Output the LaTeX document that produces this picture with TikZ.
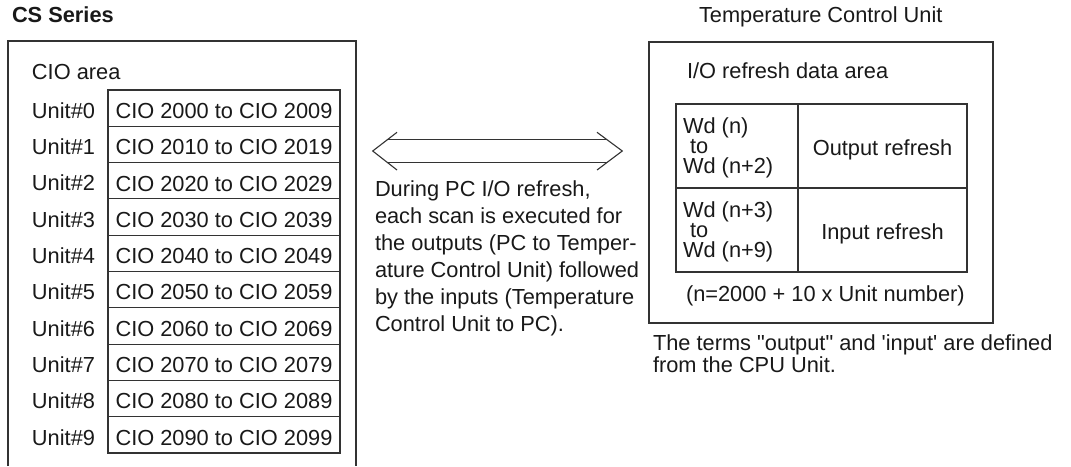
\documentclass[tikz,border=0pt]{standalone}
\usepackage{fontspec}
\setmainfont{Liberation Sans}
\begin{document}
\begin{tikzpicture}[x=0.5pt,y=-0.5pt,line width=0.55pt,
  every node/.style={inner sep=0pt,outer sep=0pt,font=\fontsize{10.9}{13}\selectfont,text=black!90},
  lbl/.style={anchor=base west},
  frame/.style={draw=black!80},
  cell/.style={draw=black!80,text height=10.3pt,text depth=0pt,minimum width=116pt,minimum height=18.15pt},
  iocell/.style={draw=black!80,text height=9.1pt,text depth=0pt,minimum height=42pt}]
\useasboundingbox (0,0) rectangle (1071,466);
% ---------------- left: CS Series ----------------
\node[lbl,font=\fontsize{10.9}{13}\selectfont\bfseries] (cs) at (12,22.7) {CS Series};
\coordinate (lbl1) at (8,466);
\coordinate (lbr1) at (356,466);
\draw[frame] (lbl1) -- (8,41) -- (356,41) -- (lbr1);
\node[lbl] (cio) at (32,79) {CIO area};
\foreach \i in {0,...,9}{
  \node[cell] (r\i) at (224,{108.15+36.3*\i}) {CIO 20\i0 to CIO 20\i9};
  \node[lbl] (u\i) at (32,{118.3+36.3*\i}) {Unit\#\i};
}
% ---------------- arrow ----------------
\coordinate (tl) at (372.7,151);
\coordinate (tr) at (622.3,151);
\coordinate (hl1) at (397,132.3);
\coordinate (hl2) at (397,170);
\coordinate (hr1) at (597,132.3);
\coordinate (hr2) at (597,170);
\coordinate (s1a) at (386.7,139.3);
\coordinate (s1b) at (606.7,139.3);
\coordinate (s2a) at (386.7,162.3);
\coordinate (s2b) at (606.7,162.3);
\draw[draw=black!80] (hl1) -- (tl) -- (hl2);
\draw[draw=black!80] (hr1) -- (tr) -- (hr2);
\draw[draw=black!80] (s1a) -- (s1b);
\draw[draw=black!80] (s2a) -- (s2b);
% ---------------- paragraph ----------------
\node[lbl] (p1) at (375,196.1) {During PC I/O refresh,};
\node[lbl] (p2) at (375,223.1) {each scan is executed for};
\node[lbl] (p3) at (375,250.1) {the outputs (PC to Temper-};
\node[lbl] (p4) at (375,277.1) {ature Control Unit) followed};
\node[lbl] (p5) at (375,304.1) {by the inputs (Temperature};
\node[lbl] (p6) at (375,331.1) {Control Unit to PC).};
% ---------------- right: Temperature Control Unit ----------------
\node[lbl] (tcu) at (699,22.7) {Temperature Control Unit};
\node[frame,minimum width=172pt,minimum height=140.5pt] (rbox) at (821,182.5) {};
\node[lbl] (ioa) at (687,78.3) {I/O refresh data area};
\node[iocell,minimum width=61pt] (owd) at (737,146) {};
\node[iocell,minimum width=84.5pt] (out) at (882.5,146) {Output refresh};
\node[iocell,minimum width=61pt] (iwd) at (737,230) {};
\node[iocell,minimum width=84.5pt] (inp) at (882.5,230) {Input refresh};
\node[lbl] (w1) at (683,133.3) {Wd (n)};
\node[lbl] (w2) at (690,153.3) {to};
\node[lbl] (w3) at (683,173.3) {Wd (n+2)};
\node[lbl] (w4) at (683,217.3) {Wd (n+3)};
\node[lbl] (w5) at (690,237.3) {to};
\node[lbl] (w6) at (683,257.3) {Wd (n+9)};
\node[lbl] (nform) at (686,301.5) {(n=2000 + 10 x Unit number)};
\node[lbl] (c1) at (653,350.7) {The terms \textquotedbl output\textquotedbl{} and \textquotesingle input\textquotesingle{} are defined};
\node[lbl] (c2) at (653,372.3) {from the CPU Unit.};
\end{tikzpicture}
\end{document}
